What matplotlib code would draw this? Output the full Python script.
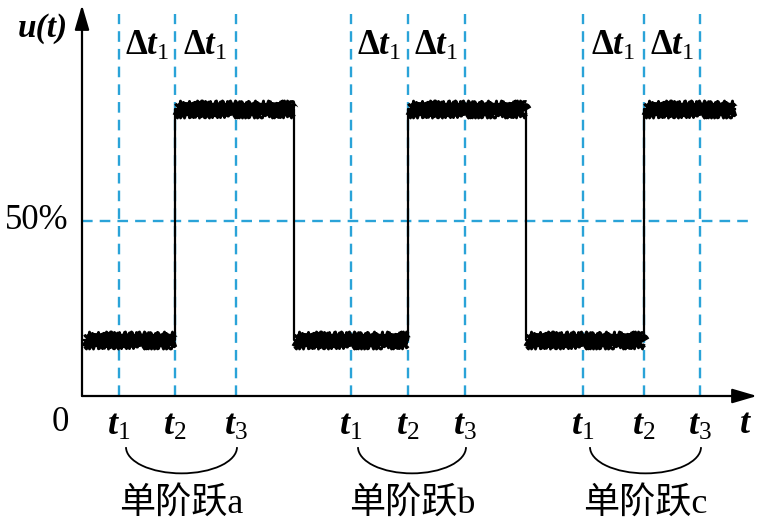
import numpy as np
import matplotlib.pyplot as plt
from matplotlib.patches import Arc, ArrowStyle

plt.rcParams['mathtext.fontset'] = 'custom'
plt.rcParams['mathtext.it'] = 'Liberation Serif:italic:bold'
plt.rcParams['mathtext.rm'] = 'Liberation Serif'
plt.rcParams['mathtext.bf'] = 'Liberation Serif:bold'

# instants t1, t2, t3 for the three steps
t_marks = [3.7, 9.3, 15.4, 26.9, 32.6, 38.3, 50.1, 56.2, 61.8]
t_names = ['$t_1$', '$t_2$', '$t_3$'] * 3
step_names = ['单阶跃a', '单阶跃b', '单阶跃c']

# signal: plateau edges and levels (%)
edges = [0.2, 9.3, 21.2, 32.6, 44.4, 56.2, 65.3]
levels = [16, 82, 16, 82, 16, 82]

blue = '#2aa3d8'

fig = plt.figure(figsize=(7.59, 5.21), dpi=100)
ax = fig.add_axes([82 / 759, 125 / 521, 675 / 759, 391 / 521])
ax.set_xlim(0, 67.5)
ax.set_ylim(0, 111.7)
ax.axis('off')

# axes with arrows
head = ArrowStyle('-|>', head_length=0.75, head_width=0.22)
ax.annotate('', xy=(1, 0), xytext=(0, 0), xycoords='axes fraction',
            arrowprops=dict(arrowstyle=head, lw=1.6, color='black', mutation_scale=20,
                            shrinkA=0, shrinkB=0))
ax.annotate('', xy=(0, 1), xytext=(0, 0), xycoords='axes fraction',
            arrowprops=dict(arrowstyle=head, lw=1.6, color='black', mutation_scale=20,
                            shrinkA=0, shrinkB=0))

# dashed guides
for t in t_marks:
    ax.plot([t, t], [0, 109], color=blue, lw=1.7, ls=(0, (4.5, 3)))
ax.plot([0, 67], [50, 50], color=blue, lw=1.7, ls=(0, (4.5, 3)))

# step signal
xs, ys = [], []
for i, lv in enumerate(levels):
    xs += [edges[i], edges[i + 1]]
    ys += [lv, lv]
ax.plot(xs, ys, color='black', lw=1.6)
for i, lv in enumerate(levels):
    seg = [edges[i], edges[i + 1]]
    ln, = ax.plot(seg, [lv, lv], color='black', lw=8, solid_capstyle='butt')
    ln.set_sketch_params(1.2, 6, 2)
    for dy, sk in [(1.7, (2.6, 2.5, 3)), (-1.7, (2.6, 3.5, 3))]:
        e, = ax.plot(seg, [lv + dy, lv + dy], color='black', lw=2, solid_capstyle='butt')
        e.set_sketch_params(*sk)

# text
serif = 'Liberation Serif'
ax.text(-3.9, 105, 'u(t)', family=serif, style='italic', weight='bold', fontsize=24,
        ha='center', va='center')
ax.text(-1.3, 50, '50%', family=serif, fontsize=25, ha='right', va='center')
ax.text(-2.2, -7.7, '0', family=serif, fontsize=25, ha='center', va='center')
ax.text(66.3, -7.7, '$t$', fontsize=26, ha='center', va='center')

for k in range(3):
    t1, t2, t3 = t_marks[3 * k:3 * k + 3]
    for a, b in [(t1, t2), (t2, t3)]:
        ax.text((a + b) / 2, 100.3, r'$\mathbf{\Delta} t_1$', fontsize=25,
                ha='center', va='center')
    left, right = t1 + 0.7, t3 + 0.1
    ax.add_patch(Arc(((left + right) / 2, -14.6), right - left, 15, theta1=180, theta2=360,
                     color='black', lw=1.3, clip_on=False))
    ax.text((left + right) / 2, -30.9, step_names[k], family=[serif, 'Noto Sans CJK SC'],
            fontsize=26, ha='center', va='center')

for t, name in zip(t_marks, t_names):
    ax.text(t, -8.2, name, fontsize=26, ha='center', va='center')

fig.savefig('out.png', dpi=100)
